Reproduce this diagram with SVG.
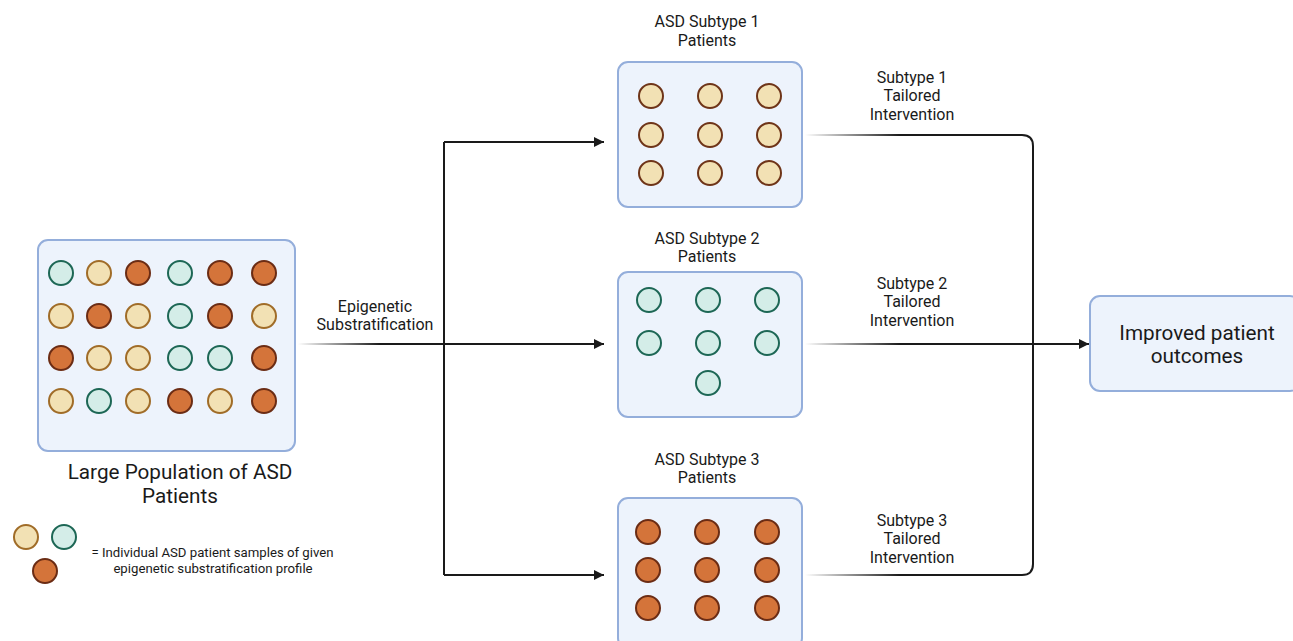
<svg xmlns="http://www.w3.org/2000/svg" width="1293" height="641" viewBox="0 0 1293 641">
<style>
.box{fill:#edf3fc;stroke:#94aedb;stroke-width:2}
.t{fill:#d4ede8;stroke:#1d6755;stroke-width:2}
.b{fill:#f2e1b4;stroke:#a06c28;stroke-width:2}
.b1{fill:#f2e1b4;stroke:#6e3418;stroke-width:2}
.o{fill:#d4743a;stroke:#6b2c14;stroke-width:2}
.ln{fill:none;stroke:#1a1a1a;stroke-width:2}
text{font-family:Roboto,"Liberation Sans",sans-serif;fill:#1a1a1a;text-anchor:middle}
.s15{font-size:16px}
.s19{font-size:20.7px}
.s12{font-size:13.2px}
</style>
<defs>
<marker id="ah" viewBox="0 0 10 10" refX="10" refY="5" markerWidth="10" markerHeight="10" markerUnits="userSpaceOnUse" orient="auto">
<path d="M0,0 L10,5 L0,10 z" fill="#1a1a1a"/>
</marker>
<linearGradient id="g0" gradientUnits="userSpaceOnUse" x1="298" y1="0" x2="380" y2="0">
<stop offset="0" stop-color="#1a1a1a" stop-opacity="0"/><stop offset="1" stop-color="#1a1a1a"/>
</linearGradient>
<linearGradient id="g1" gradientUnits="userSpaceOnUse" x1="805" y1="0" x2="900" y2="0">
<stop offset="0" stop-color="#1a1a1a" stop-opacity="0"/><stop offset="1" stop-color="#1a1a1a"/>
</linearGradient>
</defs>

<g id="connectors">
<path d="M298,344 H444" stroke="url(#g0)" stroke-width="2" fill="none"/>
<path class="ln" d="M444,142 V575"/>
<path class="ln" d="M444,142 H604" marker-end="url(#ah)"/>
<path class="ln" d="M444,344 H604" marker-end="url(#ah)"/>
<path class="ln" d="M444,575 H604" marker-end="url(#ah)"/>
<path d="M805,135 H1022 Q1033,135 1033,146 V564 Q1033,575 1022,575 H805" stroke="url(#g1)" stroke-width="2" fill="none"/>
<path d="M805,344 H1089" stroke="url(#g1)" stroke-width="2" fill="none" marker-end="url(#ah)"/>
<text class="s15" x="375" y="312">Epigenetic</text>
<text class="s15" x="375" y="330">Substratification</text>
<text class="s15" x="912" y="83">Subtype 1</text>
<text class="s15" x="912" y="101">Tailored</text>
<text class="s15" x="912" y="120">Intervention</text>
<text class="s15" x="912" y="289">Subtype 2</text>
<text class="s15" x="912" y="307">Tailored</text>
<text class="s15" x="912" y="326">Intervention</text>
<text class="s15" x="912" y="526">Subtype 3</text>
<text class="s15" x="912" y="544">Tailored</text>
<text class="s15" x="912" y="563">Intervention</text>
</g>

<g id="population">
<rect class="box" x="38" y="240" width="257" height="211" rx="10"/>
<circle class="t" cx="61" cy="273" r="12"/><circle class="b" cx="99" cy="273" r="12"/><circle class="o" cx="138" cy="273" r="12"/><circle class="t" cx="180" cy="273" r="12"/><circle class="o" cx="220" cy="273" r="12"/><circle class="o" cx="264" cy="273" r="12"/>
<circle class="b" cx="61" cy="316" r="12"/><circle class="o" cx="99" cy="316" r="12"/><circle class="b" cx="138" cy="316" r="12"/><circle class="t" cx="180" cy="316" r="12"/><circle class="o" cx="220" cy="316" r="12"/><circle class="b" cx="264" cy="316" r="12"/>
<circle class="o" cx="61" cy="358" r="12"/><circle class="b" cx="99" cy="358" r="12"/><circle class="b" cx="138" cy="358" r="12"/><circle class="t" cx="180" cy="358" r="12"/><circle class="t" cx="220" cy="358" r="12"/><circle class="o" cx="264" cy="358" r="12"/>
<circle class="b" cx="61" cy="401" r="12"/><circle class="t" cx="99" cy="401" r="12"/><circle class="b" cx="138" cy="401" r="12"/><circle class="o" cx="180" cy="401" r="12"/><circle class="b" cx="220" cy="401" r="12"/><circle class="o" cx="264" cy="401" r="12"/>
<text class="s19" x="180" y="479">Large Population of ASD</text>
<text class="s19" x="180" y="503">Patients</text>
</g>

<g id="legend">
<circle class="b" cx="26" cy="537" r="12"/>
<circle class="t" cx="64" cy="537" r="12"/>
<circle class="o" cx="45" cy="571" r="12"/>
<text class="s12" x="212.5" y="557">= Individual ASD patient samples of given</text>
<text class="s12" x="213" y="573">epigenetic substratification profile</text>
</g>

<g id="subtype1">
<text class="s15" x="707" y="27">ASD Subtype 1</text>
<text class="s15" x="707" y="46">Patients</text>
<rect class="box" x="618" y="62" width="184" height="145" rx="10"/>
<circle class="b1" cx="651" cy="96" r="12"/><circle class="b1" cx="710" cy="96" r="12"/><circle class="b1" cx="769" cy="96" r="12"/>
<circle class="b1" cx="651" cy="135" r="12"/><circle class="b1" cx="710" cy="135" r="12"/><circle class="b1" cx="769" cy="135" r="12"/>
<circle class="b1" cx="651" cy="173" r="12"/><circle class="b1" cx="710" cy="173" r="12"/><circle class="b1" cx="769" cy="173" r="12"/>
</g>

<g id="subtype2">
<text class="s15" x="707" y="244">ASD Subtype 2</text>
<text class="s15" x="707" y="262">Patients</text>
<rect class="box" x="618" y="272" width="184" height="145" rx="10"/>
<circle class="t" cx="649" cy="300" r="12"/><circle class="t" cx="708" cy="300" r="12"/><circle class="t" cx="767" cy="300" r="12"/>
<circle class="t" cx="649" cy="343" r="12"/><circle class="t" cx="708" cy="343" r="12"/><circle class="t" cx="767" cy="343" r="12"/>
<circle class="t" cx="708" cy="383" r="12"/>
</g>

<g id="subtype3">
<text class="s15" x="707" y="465">ASD Subtype 3</text>
<text class="s15" x="707" y="483">Patients</text>
<rect class="box" x="618" y="498" width="184" height="150" rx="10"/>
<circle class="o" cx="648" cy="532" r="12"/><circle class="o" cx="707" cy="532" r="12"/><circle class="o" cx="767" cy="532" r="12"/>
<circle class="o" cx="648" cy="570" r="12"/><circle class="o" cx="707" cy="570" r="12"/><circle class="o" cx="767" cy="570" r="12"/>
<circle class="o" cx="648" cy="608" r="12"/><circle class="o" cx="707" cy="608" r="12"/><circle class="o" cx="767" cy="608" r="12"/>
</g>

<g id="outcomes">
<rect class="box" x="1090" y="296" width="210" height="95" rx="10"/>
<text class="s19" x="1197" y="340">Improved patient</text>
<text class="s19" x="1197" y="363">outcomes</text>
</g>
</svg>
